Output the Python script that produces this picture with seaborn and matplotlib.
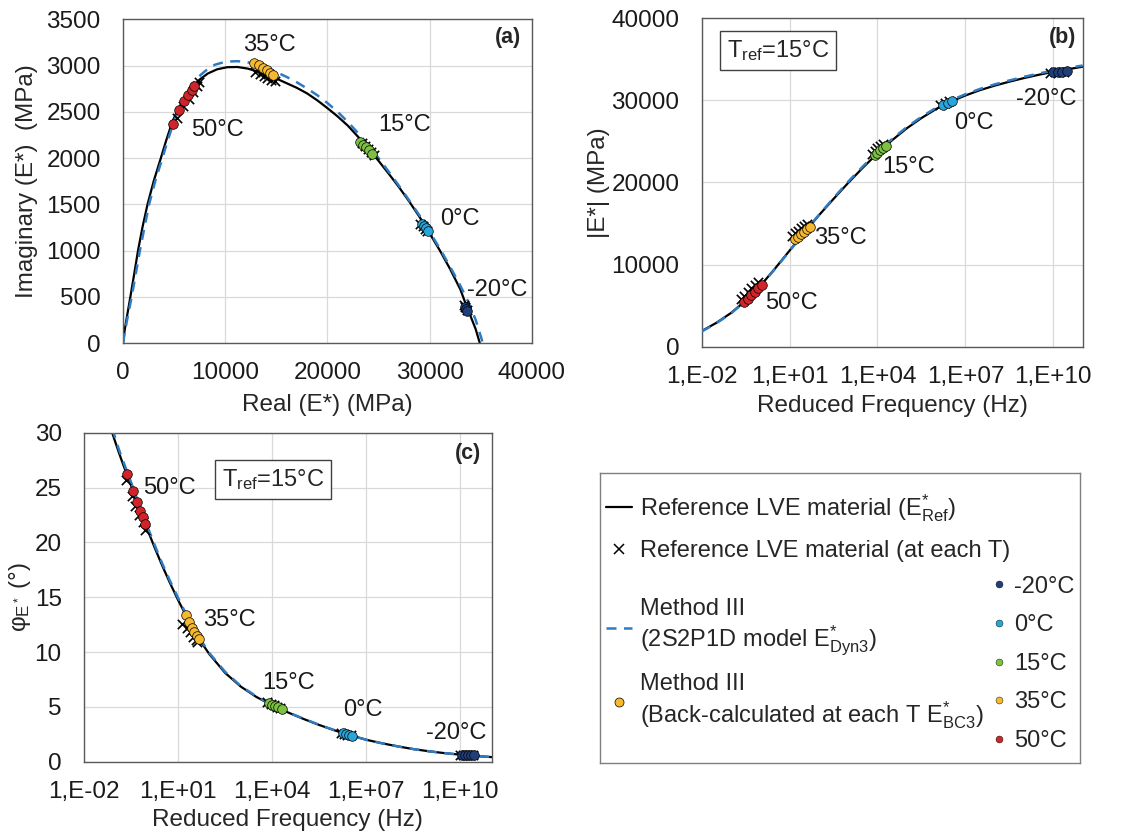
import numpy as np
import matplotlib
matplotlib.use("Agg")
import matplotlib.pyplot as plt
import seaborn as sns
from matplotlib.lines import Line2D

# --- style ---
sns.set_theme(style="whitegrid")
plt.rcParams["font.family"] = ["Liberation Sans", "DejaVu Sans"]
plt.rcParams["mathtext.fontset"] = "custom"
plt.rcParams["mathtext.rm"] = "Liberation Sans"
plt.rcParams["mathtext.it"] = "Liberation Sans:italic"

temps = ["-20°C", "0°C", "15°C", "35°C", "50°C"]
temp_colors = ["#1f3f7a", "#2aa5dc", "#7cc142", "#f5b82e", "#d0242a"]
dash_blue = "#2f7bc2"

# --- (a) Cole-Cole plane: real / imaginary (MPa) ---
cc_ref_re = [0, 150, 330, 720, 1100, 1470, 1900, 2400, 3000, 3700, 4250, 4850, 5400, 6000, 6700,
             7500, 8300, 9200, 10200, 11200, 12200, 13200, 14200, 15200, 16000, 17000, 18000,
             19000, 20000, 21000, 22000, 23000, 24000, 25000, 26000, 27000, 28000, 29000,
             30000, 31000, 32000, 33000, 33500, 34000, 34500, 34900]
cc_ref_im = [0, 130, 250, 500, 750, 1000, 1250, 1500, 1750, 2000, 2200, 2400, 2530, 2650, 2760,
             2850, 2915, 2960, 2983, 2985, 2968, 2935, 2893, 2850, 2810, 2760, 2700,
             2625, 2540, 2450, 2350, 2230, 2100, 1970, 1830, 1685, 1530, 1365,
             1185, 1000, 800, 580, 430, 290, 150, 0]
cc_dyn_re = [0, 200, 400, 850, 1250, 1650, 2100, 2550, 3150, 3850, 4400, 5000, 5600, 6200, 6900,
             7600, 8300, 9000, 9800, 10500, 11200, 12000, 12800, 13500, 14300, 15000, 16000,
             17000, 18000, 19000, 20000, 21000, 22000, 23000, 24000, 25000, 26000, 27000,
             28000, 29000, 30000, 31000, 32000, 33000, 33800, 34500, 35200]
cc_dyn_im = [0, 130, 250, 500, 750, 1000, 1250, 1500, 1750, 2000, 2200, 2400, 2560, 2700, 2810,
             2900, 2965, 3010, 3035, 3045, 3048, 3040, 3022, 3000, 2968, 2930, 2878,
             2820, 2753, 2680, 2595, 2500, 2390, 2270, 2140, 2000, 1852, 1700,
             1542, 1380, 1203, 1020, 825, 620, 440, 250, 0]
cc_bc3_re = [[33450, 33550, 33650],
             [29200, 29400, 29600, 29800],
             [23180, 23500, 23770, 24030, 24320],
             [12810, 13330, 13720, 14050, 14380, 14640],
             [4860, 5510, 6000, 6390, 6720, 6970]]
cc_bc3_im = [[390, 370, 345],
             [1290, 1265, 1240, 1210],
             [2174, 2146, 2117, 2084, 2049],
             [3032, 3003, 2974, 2949, 2924, 2902],
             [2369, 2523, 2613, 2679, 2733, 2776]]
cc_lve_re = [[33350, 33500, 33650],
             [29100, 29300, 29500, 29700],
             [23400, 23700, 24000, 24250, 24550],
             [12910, 13400, 13790, 14110, 14450, 14870],
             [5250, 5900, 6490, 6880, 7210, 7460]]
cc_lve_im = [[410, 385, 355],
             [1290, 1265, 1235, 1210],
             [2160, 2130, 2100, 2070, 2035],
             [2931, 2913, 2887, 2866, 2848, 2830],
             [2438, 2560, 2643, 2715, 2776, 2823]]

# --- (b) master curve |E*| vs log10 reduced frequency ---
mc_logf = [-2.0, -1.5, -1.0, -0.5, 0.0, 0.5, 1.0, 1.5, 2.0, 2.5, 3.0, 3.5, 4.0, 4.5,
           5.0, 5.5, 6.0, 6.5, 7.0, 7.5, 8.0, 8.5, 9.0, 9.5, 10.0, 10.5, 11.0]
mc_ref_e = [1900, 2900, 4100, 5600, 7400, 9500, 11700, 13900, 16000, 18000, 19950, 21800, 23550, 25150,
            26600, 27850, 28950, 29850, 30600, 31250, 31800, 32280, 32720, 33120, 33480, 33800, 34100]
mc_dyn_e = [1850, 2850, 4050, 5550, 7350, 9450, 11650, 13900, 16050, 18100, 20100, 21950, 23700, 25300,
            26750, 28000, 29100, 30000, 30750, 31400, 31950, 32430, 32870, 33270, 33630, 33950, 34250]
mc_bc3_logf = [[10.0, 10.15, 10.3, 10.45],
               [6.25, 6.4, 6.55],
               [3.9, 4.0, 4.1, 4.2, 4.3],
               [1.2, 1.3, 1.4, 1.5, 1.6, 1.7],
               [-0.55, -0.43, -0.31, -0.19, -0.07, 0.05]]
mc_bc3_e = [[33400, 33450, 33500, 33550],
            [29500, 29700, 29900],
            [23300, 23650, 23950, 24250, 24500],
            [13100, 13400, 13700, 14000, 14300, 14600],
            [5400, 5830, 6260, 6690, 7120, 7500]]
mc_lve_logf = [[9.9, 10.05, 10.2, 10.35],
               [6.15, 6.3, 6.45],
               [3.8, 3.9, 4.0, 4.1, 4.2],
               [1.08, 1.18, 1.28, 1.38, 1.48, 1.58],
               [-0.67, -0.55, -0.43, -0.31, -0.19, -0.07]]
mc_lve_e = [[33350, 33400, 33450, 33500],
            [29500, 29700, 29900],
            [23500, 23850, 24150, 24450, 24700],
            [13500, 13800, 14100, 14400, 14700, 15000],
            [5800, 6230, 6660, 7090, 7520, 7900]]

# --- (c) phase angle vs log10 reduced frequency ---
pa_logf = [-1.1, -0.9, -0.75, -0.5, -0.25, 0.0, 0.25, 0.5, 0.75, 1.0, 1.25, 1.5, 1.75, 2.0,
           2.5, 3.0, 3.5, 4.0, 4.5, 5.0, 5.5, 6.0, 6.5, 7.0, 7.5, 8.0, 8.5, 9.0, 9.5,
           10.0, 10.5, 11.0]
pa_ref_phi = [30.0, 28.3, 27.1, 25.2, 23.2, 21.35, 19.55, 17.85, 16.25, 14.75, 13.35, 12.05, 10.85, 9.8,
              8.1, 6.85, 5.9, 5.15, 4.5, 3.9, 3.35, 2.85, 2.4, 2.0, 1.68, 1.4, 1.15, 0.95, 0.78,
              0.64, 0.52, 0.42]
pa_dyn_phi = [30.4, 28.6, 27.4, 25.5, 23.5, 21.6, 19.8, 18.05, 16.45, 14.95, 13.5, 12.2, 11.0, 9.9,
              8.2, 6.9, 5.95, 5.18, 4.52, 3.92, 3.36, 2.86, 2.41, 2.0, 1.68, 1.4, 1.15, 0.95, 0.78,
              0.64, 0.52, 0.42]
pa_bc3_logf = [[10.05, 10.15, 10.25, 10.35, 10.45],
               [6.25, 6.35, 6.45, 6.55],
               [3.9, 4.0, 4.1, 4.2, 4.3],
               [1.24, 1.35, 1.44, 1.52, 1.6, 1.66],
               [-0.62, -0.43, -0.32, -0.21, -0.13, -0.06]]
pa_bc3_phi = [[0.62, 0.62, 0.6, 0.6, 0.58],
              [2.6, 2.5, 2.45, 2.35],
              [5.35, 5.2, 5.05, 4.95, 4.85],
              [13.4, 12.7, 12.2, 11.8, 11.5, 11.2],
              [26.2, 24.7, 23.7, 22.9, 22.3, 21.7]]
pa_lve_logf = [[10.0, 10.1, 10.2, 10.3, 10.4],
               [6.2, 6.3, 6.4, 6.5],
               [3.85, 3.95, 4.05, 4.15, 4.25],
               [1.14, 1.27, 1.37, 1.48, 1.56, 1.62],
               [-0.66, -0.48, -0.36, -0.24, -0.13, -0.04]]
pa_lve_phi = [[0.62, 0.62, 0.6, 0.6, 0.58],
              [2.6, 2.55, 2.45, 2.4],
              [5.45, 5.3, 5.15, 5.0, 4.9],
              [12.6, 12.2, 11.8, 11.4, 11.1, 10.9],
              [25.7, 24.2, 23.3, 22.5, 21.9, 21.1]]

freq_ticks = [1e-2, 1e1, 1e4, 1e7, 1e10]
freq_ticklabels = ["1,E-02", "1,E+01", "1,E+04", "1,E+07", "1,E+10"]

FS = 17.5


def hz(logs):
    return np.power(10.0, np.asarray(logs, dtype=float))


def draw_panel(ax, xr, yr, xd, yd, lx, ly, bx, by):
    sns.lineplot(x=xr, y=yr, ax=ax, color="black", lw=1.6, sort=False, estimator=None, zorder=2)
    sns.lineplot(x=xd, y=yd, ax=ax, color=dash_blue, lw=1.8, linestyle=(0, (4, 3)),
                 sort=False, estimator=None, zorder=3)
    for i in range(len(temps)):
        sns.scatterplot(x=lx[i], y=ly[i], ax=ax, marker="x", color="black", s=45,
                        linewidth=1.2, zorder=4)
        sns.scatterplot(x=bx[i], y=by[i], ax=ax, color=temp_colors[i], s=48,
                        edgecolor="black", linewidth=0.5, zorder=5)


def style_axes(ax):
    ax.set_facecolor("white")
    ax.grid(True, which="major", color="#d9d9d9", lw=0.9)
    ax.grid(False, which="minor")
    for s in ax.spines.values():
        s.set_visible(True)
        s.set_color("#595959")
        s.set_linewidth(1.0)
    ax.tick_params(axis="y", length=0, pad=16, labelsize=FS, colors="#1a1a1a")
    ax.tick_params(axis="x", labelsize=FS, colors="#1a1a1a")


def freq_axis(ax):
    ax.set_xscale("log")
    ax.set_xlim(1e-2, 1e11)
    ax.set_xticks(freq_ticks)
    ax.set_xticklabels(freq_ticklabels)
    minors = [n * 10.0 ** (k + 1) for k in (-2, 1, 4, 7) for n in range(1, 10)]
    ax.set_xticks(minors, minor=True)
    ax.set_xticklabels([], minor=True)
    ax.tick_params(axis="x", which="major", direction="in", length=6, width=0.8,
                   color="#404040", pad=14)
    ax.tick_params(axis="x", which="minor", direction="in", length=4, width=0.6,
                   color="#404040")


fig = plt.figure(figsize=(11.39, 8.32), dpi=100)
fig.patch.set_facecolor("white")

# ---------- (a) ----------
ax_a = fig.add_axes([0.108, 0.5877, 0.359, 0.389])
draw_panel(ax_a, cc_ref_re, cc_ref_im, cc_dyn_re, cc_dyn_im,
           cc_lve_re, cc_lve_im, cc_bc3_re, cc_bc3_im)
style_axes(ax_a)
ax_a.set_xlim(0, 40000)
ax_a.set_ylim(0, 3500)
ax_a.set_xticks(range(0, 40001, 10000))
ax_a.set_yticks(range(0, 3501, 500))
ax_a.tick_params(axis="x", length=0, pad=14)
ax_a.set_xlabel("Real (E*) (MPa)", fontsize=FS, labelpad=7)
ax_a.set_ylabel("Imaginary (E*)  (MPa)", fontsize=FS, labelpad=6)
for lab, (tx, ty) in zip(temps, [(36577, 572), (32960, 1339), (27580, 2354), (14280, 3218), (9190, 2300)]):
    ax_a.text(tx, ty, lab, fontsize=17, ha="center", va="center", color="#1a1a1a")
ax_a.text(0.941, 0.944, "(a)", transform=ax_a.transAxes, fontsize=15.5, fontweight="bold",
          ha="center", va="center")

# ---------- (b) ----------
ax_b = fig.add_axes([0.616, 0.5833, 0.3345, 0.3947])
draw_panel(ax_b, hz(mc_logf), mc_ref_e, hz(mc_logf), mc_dyn_e,
           [hz(v) for v in mc_lve_logf], mc_lve_e, [hz(v) for v in mc_bc3_logf], mc_bc3_e)
style_axes(ax_b)
freq_axis(ax_b)
ax_b.set_ylim(0, 40000)
ax_b.set_yticks(range(0, 40001, 10000))
ax_b.set_xlabel("Reduced Frequency (Hz)", fontsize=FS, labelpad=5)
ax_b.set_ylabel("|E*| (MPa)", fontsize=FS, labelpad=1)
for lab, (lf, ty) in zip(temps, [(9.77, 30170), (7.28, 27240), (5.07, 21880), (2.72, 13220), (1.08, 5320)]):
    ax_b.text(10 ** lf, ty, lab, fontsize=17, ha="center", va="center", color="#1a1a1a")
ax_b.text(0.948, 0.943, "(b)", transform=ax_b.transAxes, fontsize=15.5, fontweight="bold",
          ha="center", va="center")
ax_b.text(0.200, 0.903, r"T$_{\mathrm{ref}}$=15°C", transform=ax_b.transAxes, fontsize=17,
          ha="center", va="center",
          bbox=dict(boxstyle="square,pad=0.3", fc="white", ec="#404040", lw=1))

# ---------- (c) ----------
ax_c = fig.add_axes([0.0737, 0.0845, 0.358, 0.3954])
draw_panel(ax_c, hz(pa_logf), pa_ref_phi, hz(pa_logf), pa_dyn_phi,
           [hz(v) for v in pa_lve_logf], pa_lve_phi, [hz(v) for v in pa_bc3_logf], pa_bc3_phi)
style_axes(ax_c)
freq_axis(ax_c)
ax_c.set_ylim(0, 30)
ax_c.set_yticks(range(0, 31, 5))
ax_c.set_xlabel("Reduced Frequency (Hz)", fontsize=FS, labelpad=4)
ax_c.set_ylabel(r"φ$_{\mathrm{E^*}}$ (°)", fontsize=FS, labelpad=1)
for lab, (lf, ty) in zip(temps, [(9.87, 2.62), (6.88, 4.71), (4.52, 7.17), (2.645, 12.9), (0.736, 24.95)]):
    ax_c.text(10 ** lf, ty, lab, fontsize=17, ha="center", va="center", color="#1a1a1a")
ax_c.text(0.942, 0.938, "(c)", transform=ax_c.transAxes, fontsize=15.5, fontweight="bold",
          ha="center", va="center")
ax_c.text(0.4636, 0.859, r"T$_{\mathrm{ref}}$=15°C", transform=ax_c.transAxes, fontsize=17,
          ha="center", va="center",
          bbox=dict(boxstyle="square,pad=0.3", fc="white", ec="#404040", lw=1))

# ---------- legend box ----------
ax_l = fig.add_axes([0.5268, 0.083, 0.4214, 0.3486])
ax_l.set_xticks([])
ax_l.set_yticks([])
ax_l.grid(False)
ax_l.set_facecolor("white")
for s in ax_l.spines.values():
    s.set_color("#7f7f7f")
    s.set_linewidth(1.0)

h_top = [Line2D([], [], color="black", lw=1.6),
         Line2D([], [], color="black", marker="x", ls="none", ms=7, mew=1.1)]
l_top = [r"Reference LVE material ($\mathrm{E}^{*}_{\mathrm{Ref}}$)",
         "Reference LVE material (at each T)"]
h_mid = [Line2D([], [], color=dash_blue, lw=1.8, ls=(0, (4, 3))),
         Line2D([], [], color=temp_colors[3], marker="o", ls="none", ms=6.5, mec="black", mew=0.5)]
l_mid = ["Method III\n" + r"(2S2P1D model $\mathrm{E}^{*}_{\mathrm{Dyn3}}$)",
         "Method III\n" + r"(Back-calculated at each T $\mathrm{E}^{*}_{\mathrm{BC3}}$)"]
h_tmp = [Line2D([], [], color=c, marker="o", ls="none", ms=5, mec="black", mew=0.3)
         for c in temp_colors]

kw = dict(frameon=False, fontsize=17, borderpad=0, borderaxespad=0, handletextpad=0.35,
          loc="upper left", bbox_transform=fig.transFigure)
leg1 = ax_l.legend(h_top, l_top, bbox_to_anchor=(0.532, 0.4084), handlelength=1.1,
                   labelspacing=0.7, **kw)
ax_l.add_artist(leg1)
leg2 = ax_l.legend(h_mid, l_mid, bbox_to_anchor=(0.532, 0.2816), handlelength=1.1,
                   labelspacing=0.61, **kw)
ax_l.add_artist(leg2)
ax_l.legend(h_tmp, temps, bbox_to_anchor=(0.871, 0.308), handlelength=0.6,
            labelspacing=0.70, **kw)

fig.savefig("out.png", dpi=100, facecolor="white")
